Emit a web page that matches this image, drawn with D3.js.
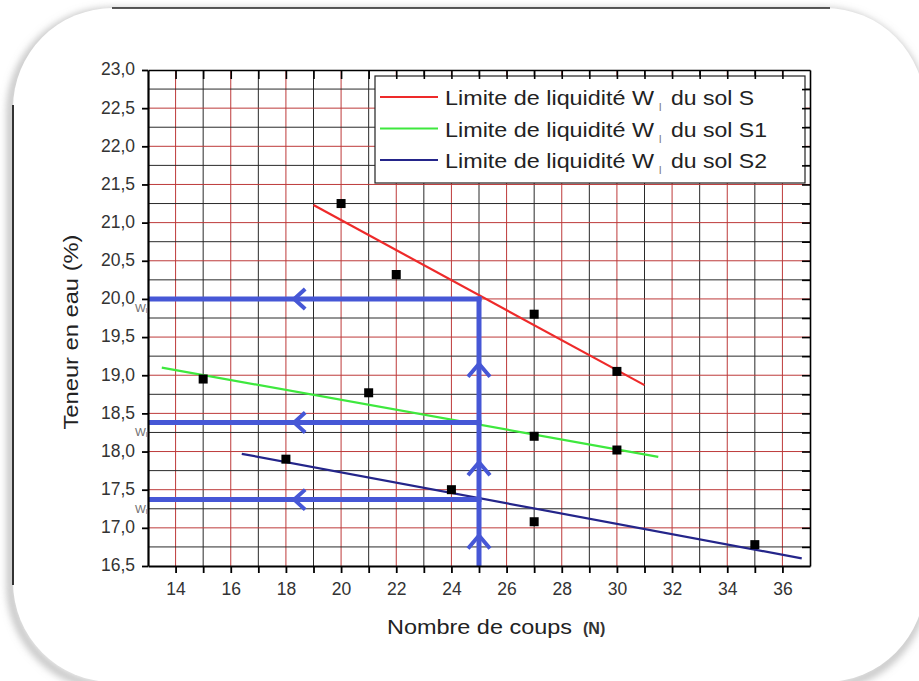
<!DOCTYPE html>
<html>
<head>
<meta charset="utf-8">
<script src="https://cdn.jsdelivr.net/npm/d3@7/dist/d3.min.js"></script>
<style>
    body { margin: 0; background: #fff; }
    svg text { font-family: "Liberation Sans", Arial, sans-serif; }
</style>
</head>
<body>
<div id="chart"></div>
<script>
// measured points (Nombre de coups, Teneur en eau)
const countsS = [20, 22, 27, 30];
const waterS = [21.25, 20.32, 19.8, 19.05];
const countsS1 = [15, 21, 27, 30];
const waterS1 = [18.95, 18.77, 18.2, 18.02];
const countsS2 = [18, 24, 27, 35];
const waterS2 = [17.9, 17.5, 17.08, 16.78];

// end points of the fitted lines
const fitCountsS = [19, 31];
const fitWaterS = [21.23, 18.87];
const fitCountsS1 = [13.5, 31.5];
const fitWaterS1 = [19.1, 17.93];
const fitCountsS2 = [16.4, 36.7];
const fitWaterS2 = [17.97, 16.6];

const legendLabels = ["du sol S", "du sol S1", "du sol S2"];

// reading of W_l at 25 blows
const targetCount = 25;
const liquidLimits = [20.0, 18.38, 17.37];
const arrowCountLeft = 18.3;
const arrowWaterUp = [16.9, 17.86, 19.15];

const xTicks = d3.range(14, 37, 2);
const yTicks = d3.range(16.5, 23.01, 0.5);

(function () {
    var vMargin = { mTop: 70, mRight: 109, mBottom: 115, mLeft: 148 },
        vWidth = 919, vHeight = 681;

    var cRed = "#bd3a3a", cGrid = "#2a2a2a", cGuide = "#4657d6";
    var vColors = ["#ee2a2a", "#3ee83e", "#24258a"];

    var svg = d3.select("#chart").append("svg")
        .attr("width", vWidth)
        .attr("height", vHeight);

    // rounded card with soft shadow
    var defs = svg.append("defs");
    defs.append("filter").attr("id", "soft")
        .attr("x", "-5%").attr("y", "-5%").attr("width", "110%").attr("height", "110%")
        .append("feGaussianBlur").attr("stdDeviation", 4);

    svg.append("rect")
        .attr("x", 11).attr("y", 12).attr("width", 912).attr("height", 674).attr("rx", 100)
        .attr("fill", "none").attr("stroke", "#9a9a9a").attr("stroke-width", 5)
        .attr("filter", "url(#soft)");
    svg.append("rect")
        .attr("x", 13).attr("y", 8).attr("width", 912).attr("height", 674).attr("rx", 100)
        .attr("fill", "#fff");
    svg.append("line").attr("x1", 112).attr("x2", 830).attr("y1", 8).attr("y2", 8)
        .attr("stroke", "#222").attr("stroke-width", 1.5);
    svg.append("line").attr("x1", 13).attr("x2", 13).attr("y1", 105).attr("y2", 585)
        .attr("stroke", "#333").attr("stroke-width", 2);

    var x = d3.scaleLinear().domain([13, 37]).range([vMargin.mLeft, vWidth - vMargin.mRight]);
    var y = d3.scaleLinear().domain([16.5, 23]).range([vHeight - vMargin.mBottom, vMargin.mTop]);

    // grid
    var grid = svg.append("g");
    grid.selectAll(".vgrid")
        .data(d3.range(14, 37))
        .join("line")
        .attr("x1", d => x(d)).attr("x2", d => x(d))
        .attr("y1", y(16.5)).attr("y2", y(23))
        .attr("stroke", d => d % 2 === 0 ? cRed : cGrid)
        .attr("stroke-width", 1);
    grid.selectAll(".hgrid")
        .data(d3.range(1, 26))
        .join("line")
        .attr("x1", x(13)).attr("x2", x(37))
        .attr("y1", d => y(16.5 + d * 0.25)).attr("y2", d => y(16.5 + d * 0.25))
        .attr("stroke", d => d % 2 === 0 ? cRed : cGrid)
        .attr("stroke-width", 1);

    // legend
    var legend = svg.append("g");
    legend.append("rect")
        .attr("x", 375).attr("y", 76).attr("width", 430).attr("height", 107)
        .attr("fill", "#fff").attr("stroke", "#222").attr("stroke-width", 1.2);
    legendLabels.forEach(function (aLabel, aIdx) {
        var vY = 97 + aIdx * 31.5;
        legend.append("line")
            .attr("x1", 380).attr("x2", 438).attr("y1", vY).attr("y2", vY)
            .attr("stroke", vColors[aIdx]).attr("stroke-width", 2.2);
        legend.append("text")
            .attr("x", 445).attr("y", vY + 8)
            .attr("font-size", 21).attr("fill", "#222")
            .attr("textLength", 209).attr("lengthAdjust", "spacingAndGlyphs")
            .text("Limite de liquidité W");
        legend.append("text")
            .attr("x", 659).attr("y", vY + 14)
            .attr("font-size", 11).attr("fill", "#777")
            .text("l");
        legend.append("text")
            .attr("x", 671).attr("y", vY + 8)
            .attr("font-size", 21).attr("fill", "#222")
            .attr("textLength", aIdx === 0 ? 83 : 96).attr("lengthAdjust", "spacingAndGlyphs")
            .text(aLabel);
    });

    // fitted lines
    var vLine = d3.line().x(d => x(d[0])).y(d => y(d[1]));
    var vFits = [
        d3.zip(fitCountsS, fitWaterS),
        d3.zip(fitCountsS1, fitWaterS1),
        d3.zip(fitCountsS2, fitWaterS2)
    ];
    svg.selectAll(".fit")
        .data(vFits)
        .join("path")
        .attr("d", vLine)
        .attr("fill", "none")
        .attr("stroke", (d, i) => vColors[i])
        .attr("stroke-width", 2.2);

    // guides for W_l at 25 blows
    var guides = svg.append("g")
        .attr("stroke", cGuide).attr("stroke-width", 5).attr("fill", "none");
    guides.append("line")
        .attr("x1", x(targetCount)).attr("x2", x(targetCount))
        .attr("y1", y(16.5)).attr("y2", y(liquidLimits[0]) - 2.5);
    guides.selectAll(".hguide")
        .data(liquidLimits)
        .join("line")
        .attr("x1", x(13)).attr("x2", x(targetCount) + 2.5)
        .attr("y1", d => y(d)).attr("y2", d => y(d));
    guides.selectAll(".larrow")
        .data(liquidLimits)
        .join("path")
        .attr("stroke-width", 4)
        .attr("d", d => "M" + (x(arrowCountLeft) + 11) + "," + (y(d) - 10) +
            "L" + x(arrowCountLeft) + "," + y(d) +
            "L" + (x(arrowCountLeft) + 11) + "," + (y(d) + 10));
    guides.selectAll(".uarrow")
        .data(arrowWaterUp)
        .join("path")
        .attr("stroke-width", 4)
        .attr("d", d => "M" + (x(targetCount) - 11) + "," + (y(d) + 13) +
            "L" + x(targetCount) + "," + y(d) +
            "L" + (x(targetCount) + 11) + "," + (y(d) + 13));

    // measured points
    var vPoints = [].concat(
        d3.zip(countsS, waterS),
        d3.zip(countsS1, waterS1),
        d3.zip(countsS2, waterS2)
    );
    svg.selectAll(".pt")
        .data(vPoints)
        .join("rect")
        .attr("x", d => x(d[0]) - 4.5)
        .attr("y", d => y(d[1]) - 4.5)
        .attr("width", 9).attr("height", 9)
        .attr("fill", "#000");

    // axes
    var fmtComma = d => d3.format(".1f")(d).replace(".", ",");

    var axBottom = svg.append("g")
        .attr("transform", "translate(0," + y(16.5) + ")")
        .call(d3.axisBottom(x).tickValues(d3.range(14, 37)).tickSize(7).tickPadding(10)
            .tickSizeOuter(0).tickFormat(d => xTicks.includes(d) ? d : ""));
    var axLeft = svg.append("g")
        .attr("transform", "translate(" + x(13) + ",0)")
        .call(d3.axisLeft(y).tickValues(yTicks).tickSize(6).tickPadding(7)
            .tickSizeOuter(0).tickFormat(fmtComma));
    var axTop = svg.append("g")
        .attr("transform", "translate(0," + y(23) + ")")
        .call(d3.axisTop(x).tickValues(d3.range(14, 37)).tickSize(-9)
            .tickSizeOuter(0).tickFormat(""));
    var axRight = svg.append("g")
        .attr("transform", "translate(" + x(37) + ",0)")
        .call(d3.axisRight(y).tickValues(d3.range(16.75, 23, 0.25)).tickSize(-8)
            .tickSizeOuter(0).tickFormat(""));

    [axBottom, axLeft].forEach(function (aAx) {
        aAx.select(".domain").attr("stroke", "#000").attr("stroke-width", 2.2);
        aAx.selectAll(".tick line").attr("stroke", "#000").attr("stroke-width", 1.8);
        aAx.selectAll(".tick text")
            .attr("font-size", 17.5).attr("fill", "#333")
            .attr("font-family", "Liberation Sans, Arial, sans-serif");
    });
    axLeft.selectAll(".tick text").attr("dy", "0.28em");
    [axTop, axRight].forEach(function (aAx) {
        aAx.select(".domain").attr("stroke", "#000").attr("stroke-width", 1.6);
        aAx.selectAll(".tick line").attr("stroke", "#000").attr("stroke-width", 1.6);
    });

    // W_l labels next to the axis, on top of it
    liquidLimits.forEach(function (aVal) {
        var t = svg.append("text")
            .attr("x", 135).attr("y", y(aVal) + 13)
            .attr("font-size", 11.5).attr("fill", "#6f6f6f");
        t.append("tspan").text("W");
        t.append("tspan").attr("font-size", 7.5).attr("dy", 1).text("l");
    });

    // axis titles
    var xTitle = svg.append("text")
        .attr("x", 387).attr("y", 634)
        .attr("fill", "#222");
    xTitle.append("tspan").attr("font-size", 20)
        .attr("textLength", 185).attr("lengthAdjust", "spacingAndGlyphs")
        .text("Nombre de coups");
    xTitle.append("tspan").attr("x", 583).attr("font-size", 16).attr("font-weight", "bold")
        .attr("fill", "#333").text("(N)");

    svg.append("text")
        .attr("transform", "translate(78,332) rotate(-90)")
        .attr("text-anchor", "middle")
        .attr("font-size", 20).attr("fill", "#222")
        .attr("textLength", 195).attr("lengthAdjust", "spacingAndGlyphs")
        .text("Teneur en eau (%)");
})();
</script>
</body>
</html>
